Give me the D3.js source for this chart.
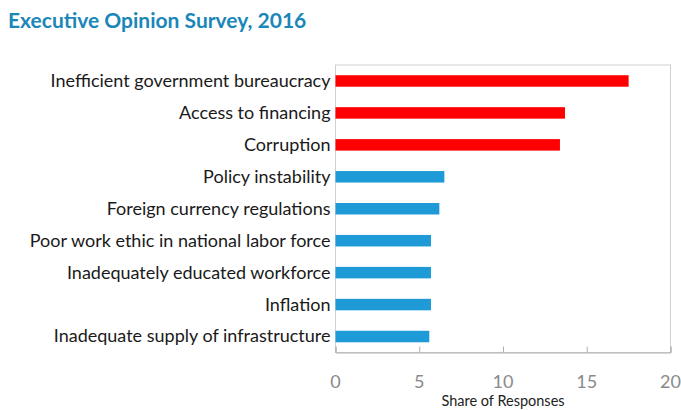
<!DOCTYPE html>
<html lang="en">
<head>
    <meta charset="UTF-8">
    <title>Executive Opinion Survey, 2016</title>
    <script src="https://cdnjs.cloudflare.com/ajax/libs/d3/7.8.5/d3.min.js"></script>
    <style>
        body { margin: 0; background: #fff; }
        text { font-family: Lato, "Open Sans", sans-serif; }
    </style>
</head>
<body>
    <div id="grafico"></div>
    <script type="text/javascript">

        // data
        var categories = ["Inefficient government bureaucracy", "Access to financing", "Corruption",
                          "Policy instability", "Foreign currency regulations",
                          "Poor work ethic in national labor force", "Inadequately educated workforce",
                          "Inflation", "Inadequate supply of infrastructure"];
        var values = [17.5, 13.7, 13.4, 6.5, 6.2, 5.7, 5.7, 5.7, 5.6];
        var highlighted = [true, true, true, false, false, false, false, false, false];
        var xTicks = [0, 5, 10, 15, 20];

        var w = 681, h = 410;
        var plotLeft = 335.5, plotRight = 670.5, plotTop = 65, plotBottom = 352.5;

        var svg = d3.select("#grafico").append("svg")
            .attr("width", w).attr("height", h);

        // title
        svg.append("text")
            .attr("x", 8).attr("y", 28)
            .attr("font-size", "21px")
            .attr("font-weight", "bold")
            .attr("fill", "#1a87b8")
            .text("Executive Opinion Survey, 2016");

        var xScale = d3.scaleLinear().domain([0, 20]).range([plotLeft, plotRight]);
        var yScale = d3.scaleBand().domain(categories).range([plotTop, plotBottom]).paddingInner(0.64).paddingOuter(0.32);

        // plot frame
        svg.append("rect")
            .attr("x", plotLeft).attr("y", plotTop)
            .attr("width", plotRight - plotLeft).attr("height", plotBottom - plotTop)
            .attr("fill", "none").attr("stroke", "#d0d0d0").attr("stroke-width", 1);

        // bars
        svg.selectAll("rect.bar")
            .data(values)
            .enter().append("rect")
            .attr("class", "bar")
            .attr("x", xScale(0))
            .attr("y", function(d, i) { return yScale(categories[i]); })
            .attr("width", function(d) { return xScale(d) - xScale(0); })
            .attr("height", yScale.bandwidth())
            .attr("fill", function(d, i) { return highlighted[i] ? "#ff0000" : "#1e9bd7"; });

        // category labels
        svg.selectAll("text.cat")
            .data(categories)
            .enter().append("text")
            .attr("class", "cat")
            .attr("x", plotLeft - 5)
            .attr("y", function(d) { return yScale(d) + yScale.bandwidth() / 2; })
            .attr("dy", "0.33em")
            .attr("text-anchor", "end")
            .attr("font-size", "18px")
            .attr("fill", "#1a1a1a")
            .text(function(d) { return d; });

        // x axis
        var xAxis = d3.axisTop(xScale).tickValues(xTicks).tickSize(6).tickFormat("");
        var gx = svg.append("g")
            .attr("transform", "translate(0," + plotBottom + ")")
            .call(xAxis);
        gx.select(".domain").attr("stroke", "#b0b0b0");
        gx.selectAll(".tick line").attr("stroke", "#b0b0b0");

        svg.selectAll("text.tick")
            .data(xTicks)
            .enter().append("text")
            .attr("class", "tick")
            .attr("x", function(d) { return xScale(d); })
            .attr("y", 388)
            .attr("text-anchor", "middle")
            .attr("font-size", "18px")
            .attr("fill", "#8a8a8a")
            .text(function(d) { return d; });

        svg.append("text")
            .attr("x", xScale(10)).attr("y", 406)
            .attr("text-anchor", "middle")
            .attr("font-size", "14.5px")
            .attr("fill", "#222")
            .text("Share of Responses");

    </script>
</body>
</html>
